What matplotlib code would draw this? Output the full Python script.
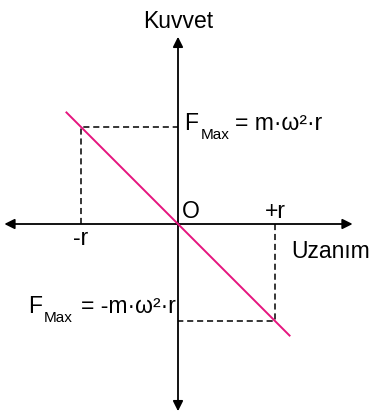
import matplotlib.pyplot as plt

plt.rcParams['font.family'] = ['Liberation Sans', 'DejaVu Sans']

# displacement / force in units of r and m*w^2*r
r = 1.0
f_max = 1.0
x_line = [-1.15, 1.15]
f_line = [-f_max * x / r for x in x_line]

fig = plt.figure(figsize=(3.73, 4.13), dpi=100)
ax = fig.add_axes([0, 0, 1, 1])
ax.set_xlim(-178 / 97, 195 / 97)
ax.set_ylim(-189 / 97, 224 / 97)
ax.axis('off')

# axes with arrows on both ends
arr = dict(arrowstyle='-|>', color='black', lw=1.3, mutation_scale=15,
           shrinkA=0, shrinkB=0)
ax.annotate('', xy=(1.80, 0), xytext=(0, 0), arrowprops=arr)
ax.annotate('', xy=(-1.79, 0), xytext=(0, 0), arrowprops=arr)
ax.annotate('', xy=(0, 1.93), xytext=(0, 0), arrowprops=arr)
ax.annotate('', xy=(0, -1.93), xytext=(0, 0), arrowprops=arr)

# F = -k x
ax.plot(x_line, f_line, color='#e5157f', lw=1.4, zorder=3)

# dashed guides to the extreme points
dash = dict(color='black', lw=1.1, ls=(0, (4, 2.5)))
ax.plot([-r, -r, 0], [0, f_max, f_max], **dash)
ax.plot([r, r, 0], [0, -f_max, -f_max], **dash)

fs = 16.5
ax.text(0, 2.02, 'Kuvvet', fontsize=fs, ha='center', va='baseline')
ax.text(1.17, -0.35, 'Uzanım', fontsize=fs, ha='left', va='baseline')
ax.text(0.04, 0.06, 'O', fontsize=fs, ha='left', va='baseline')
ax.text(r, 0.06, '+r', fontsize=fs, ha='center', va='baseline')
ax.text(-r, -0.22, '-r', fontsize=fs, ha='center', va='baseline')

# F_max labels
ax.text(0.06, 0.97, 'F', fontsize=fs, ha='left', va='baseline')
ax.text(0.23, 0.88, 'Max', fontsize=11, ha='left', va='baseline')
ax.text(0.59, 0.97, '= m·ω²·r', fontsize=fs, ha='left', va='baseline')

ax.text(-1.55, -0.92, 'F', fontsize=fs, ha='left', va='baseline')
ax.text(-1.38, -1.01, 'Max', fontsize=11, ha='left', va='baseline')
ax.text(-0.02, -0.92, '= -m·ω²·r', fontsize=fs, ha='right', va='baseline')

fig.savefig('out.png', dpi=100)
